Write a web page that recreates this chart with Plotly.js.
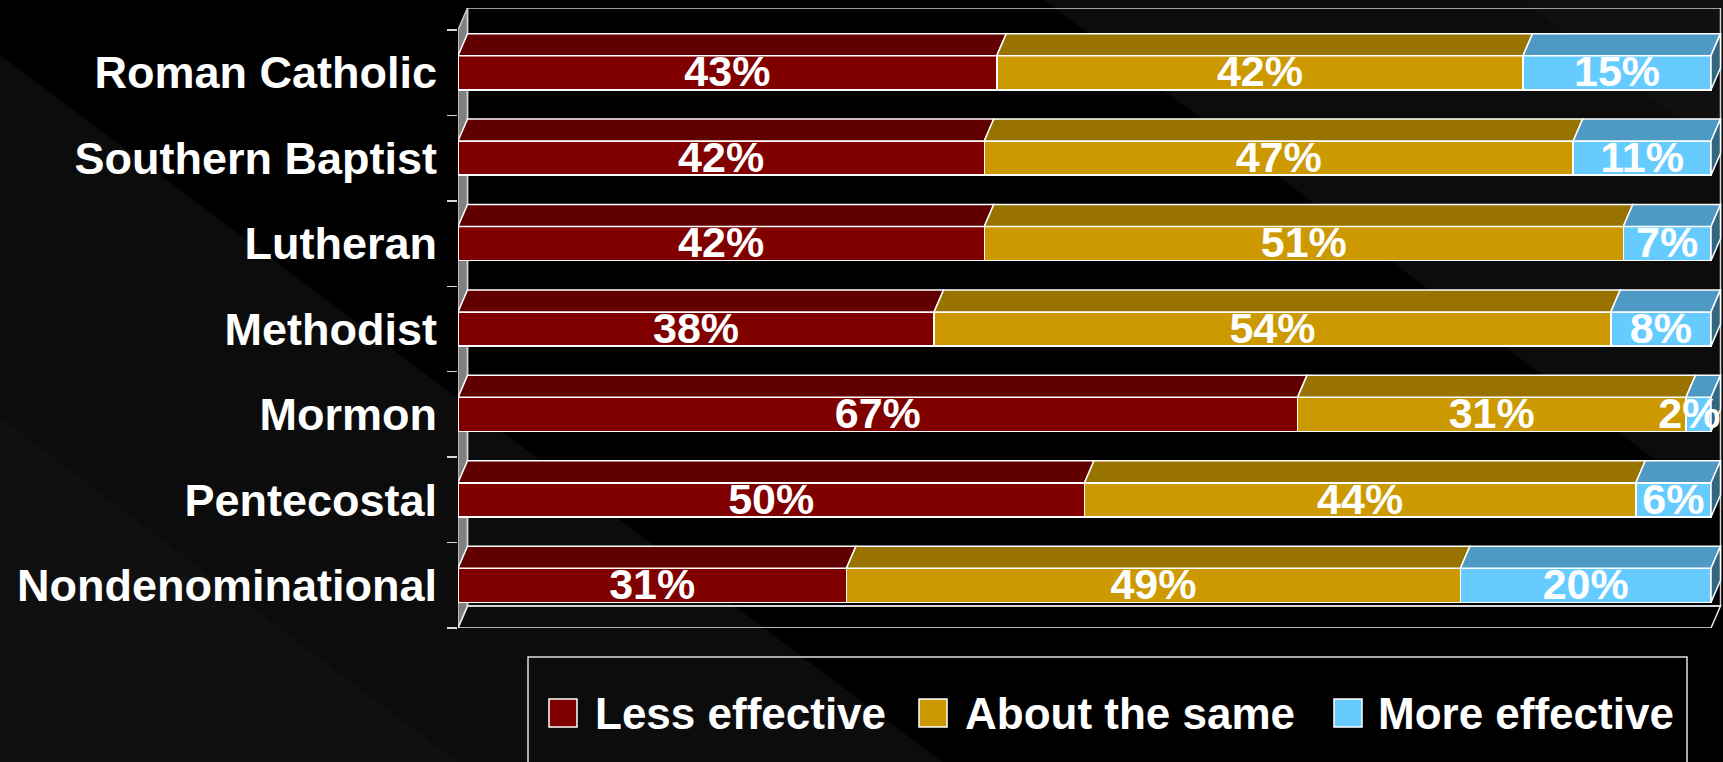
<!DOCTYPE html>
<html><head><meta charset="utf-8">
<script src="https://cdn.plot.ly/plotly-3.0.1.min.js"></script>
<style>html,body{margin:0;padding:0;background:#000;overflow:hidden}#chart{width:1723px;height:762px}</style>
</head><body><div id="chart"></div>
<script>
// ---- data ----
const categories = ['Roman Catholic','Southern Baptist','Lutheran','Methodist','Mormon','Pentecostal','Nondenominational'];
const seriesNames = ['Less effective','About the same','More effective'];
const lessEffective = [43,42,42,38,67,50,31];
const aboutTheSame  = [42,47,51,54,31,44,49];
const moreEffective = [15,11,7,8,2,6,20];
const seriesValues = [lessEffective, aboutTheSame, moreEffective];

// ---- styles ----
const frontColors = ['#800000','#CC9900','#66CCFF'];
const topColors   = ['#600000','#997300','#4F9AC4'];
const sideColor   = '#336680';
const FONT = 'Arial, "Liberation Sans", Helvetica, sans-serif';
const LABEL_SIZE = 43;

// ---- geometry ----
const W = 1723, H = 762, L = 458, T = 8, B = 134, R = 0;
const plotW = W - L - R, plotH = H - T - B;
const X100_PX = 1253;            // pixels for 100 %
const DX_PX = 9.5, DY_PX = 22;   // 3-D depth offset
const NCAT = categories.length;
const pxPerCat = (plotH - DY_PX) / NCAT;
const dxu = DX_PX * 100 / X100_PX;
const dyu = DY_PX / pxPerCat;
const BAR_W = 0.4, HB = BAR_W / 2;
const LABEL_DROP = 3 / pxPerCat;  // small downward nudge of value labels
const idx = categories.map((_, i) => i);
const xMax = plotW * 100 / X100_PX;

const px2x = p => (p - L) / plotW;
const py2y = p => (T + plotH - p) / plotH;

const traces = [];
// front faces
seriesValues.forEach((vals, s) => {
  traces.push({
    type: 'bar', orientation: 'h', name: seriesNames[s],
    x: vals, y: idx, width: BAR_W,
    marker: {color: frontColors[s], line: {color: '#ffffff', width: 1.5}},
    showlegend: false, hoverinfo: 'x+name'
  });
});
// starts of each segment
const starts = seriesValues.map((vals, s) => vals.map((v, i) => {
  let c = 0; for (let k = 0; k < s; k++) c += seriesValues[k][i]; return c;
}));
// top faces
seriesValues.forEach((vals, s) => {
  const xs = [], ys = [];
  vals.forEach((v, i) => {
    const x0 = starts[s][i], x1 = x0 + v, yt = i - HB;
    xs.push(x0, x1, x1 + dxu, x0 + dxu, x0, null);
    ys.push(yt, yt, yt - dyu, yt - dyu, yt, null);
  });
  traces.push({type: 'scatter', mode: 'lines', x: xs, y: ys, fill: 'toself',
    fillcolor: topColors[s], line: {color: '#ffffff', width: 1.5},
    showlegend: false, hoverinfo: 'skip'});
});
// right side faces (end of last segment)
{
  const s = seriesValues.length - 1;
  const xs = [], ys = [];
  seriesValues[s].forEach((v, i) => {
    const xe = starts[s][i] + v, yt = i - HB, yb = i + HB;
    xs.push(xe, xe + dxu, xe + dxu, xe, xe, null);
    ys.push(yt, yt - dyu, yb - dyu, yb, yt, null);
  });
  traces.push({type: 'scatter', mode: 'lines', x: xs, y: ys, fill: 'toself',
    fillcolor: sideColor, line: {color: '#ffffff', width: 1.5},
    showlegend: false, hoverinfo: 'skip'});
}
// data labels (labels that would run past the right edge are right-aligned to the box end)
const approxWidthPct = t => (t.length - 1) * 0.556 * LABEL_SIZE * 100 / X100_PX + 0.889 * LABEL_SIZE * 100 / X100_PX;
seriesValues.forEach((vals, s) => {
  const xs = [], pos = [];
  vals.forEach((v, i) => {
    const c = starts[s][i] + v / 2, t = v + '%';
    if (c + approxWidthPct(t) / 2 > 100 + dxu) { xs.push(100 + dxu); pos.push('middle left'); }
    else { xs.push(c); pos.push('middle center'); }
  });
  traces.push({type: 'scatter', mode: 'text',
    x: xs, y: idx.map(i => i + LABEL_DROP),
    text: vals.map(v => v + '%'), textposition: pos,
    textfont: {family: FONT, size: LABEL_SIZE, color: '#ffffff', weight: 'bold'},
    cliponaxis: false, showlegend: false, hoverinfo: 'skip'});
});

// ---- shapes ----
const shapes = [];
const poly = (pts, color) => ({type: 'path', xref: 'paper', yref: 'paper', layer: 'below',
  path: 'M' + pts.map(p => px2x(p[0]) + ',' + py2y(p[1])).join('L') + 'Z',
  fillcolor: color, line: {width: 0}});
shapes.push(poly([[-5,51],[948,766],[-5,766]], '#0c0c0c'));
shapes.push(poly([[-5,414],[463,766],[-5,766]], '#101010'));
shapes.push(poly([[1037,-5],[1730,-5],[1730,516]], '#0c0c0c'));
shapes.push(poly([[1516,-5],[1730,-5],[1730,157]], '#101010'));

const yTop = -0.5, yBot = NCAT - 0.5;
// left wall
shapes.push({type: 'path', xref: 'x', yref: 'y', layer: 'below',
  path: `M0,${yTop}L0,${yBot}L${dxu},${yBot - dyu}L${dxu},${yTop - dyu}Z`,
  fillcolor: '#808080', line: {color: '#c8c8c8', width: 1.5}});
// back wall
shapes.push({type: 'rect', xref: 'x', yref: 'y', layer: 'below',
  x0: dxu, x1: 100 + dxu, y0: yTop - dyu, y1: yBot - dyu,
  fillcolor: 'rgba(0,0,0,0)', line: {color: '#d0d0d0', width: 1.5}});
// floor
shapes.push({type: 'path', xref: 'x', yref: 'y', layer: 'below',
  path: `M0,${yBot}L100,${yBot}L${100 + dxu},${yBot - dyu}L${dxu},${yBot - dyu}Z`,
  fillcolor: 'rgba(0,0,0,0)', line: {color: '#e8e8e8', width: 1.5}});

// legend
shapes.push({type: 'rect', xref: 'paper', yref: 'paper',
  x0: px2x(528), x1: px2x(1687), y0: py2y(657), y1: py2y(790),
  fillcolor: 'rgba(0,0,0,0)', line: {color: '#e0e0e0', width: 1.5}});
const legSq = [549, 919, 1334];
const legTx = [593, 963, 1376];
const annotations = [];
seriesNames.forEach((n, s) => {
  shapes.push({type: 'rect', xref: 'paper', yref: 'paper',
    x0: px2x(legSq[s]), x1: px2x(legSq[s] + 28), y0: py2y(699), y1: py2y(727),
    fillcolor: frontColors[s], line: {color: '#ffffff', width: 1.5}});
  annotations.push({xref: 'paper', yref: 'paper', x: px2x(legTx[s]), y: py2y(713),
    xanchor: 'left', yanchor: 'middle', showarrow: false, text: n,
    font: {family: FONT, size: 44, color: '#ffffff', weight: 'bold'}});
});

const layout = {
  width: W, height: H,
  margin: {l: L, r: R, t: T, b: B, pad: 0},
  paper_bgcolor: '#000000', plot_bgcolor: 'rgba(0,0,0,0)',
  barmode: 'stack', bargap: 0, showlegend: false,
  xaxis: {range: [0, xMax], showgrid: false, zeroline: false,
    showticklabels: false, ticks: '', showline: false, fixedrange: true},
  yaxis: {range: [yBot, yTop - dyu], tickmode: 'array', tickvals: idx, ticktext: categories,
    ticks: '', showgrid: false, zeroline: false, showline: false,
    tickfont: {family: FONT, size: 45, color: '#ffffff', weight: 'bold'},
    ticklabelstandoff: 20,
    minor: {tickmode: 'array', tickvals: idx.concat([NCAT]).map(i => i - 0.5),
      ticks: 'outside', ticklen: 10, tickwidth: 1.5, tickcolor: '#d8d8d8', showgrid: false},
    fixedrange: true},
  shapes: shapes, annotations: annotations
};

Plotly.newPlot('chart', traces, layout, {displayModeBar: false, staticPlot: true});
</script>
</body></html>
